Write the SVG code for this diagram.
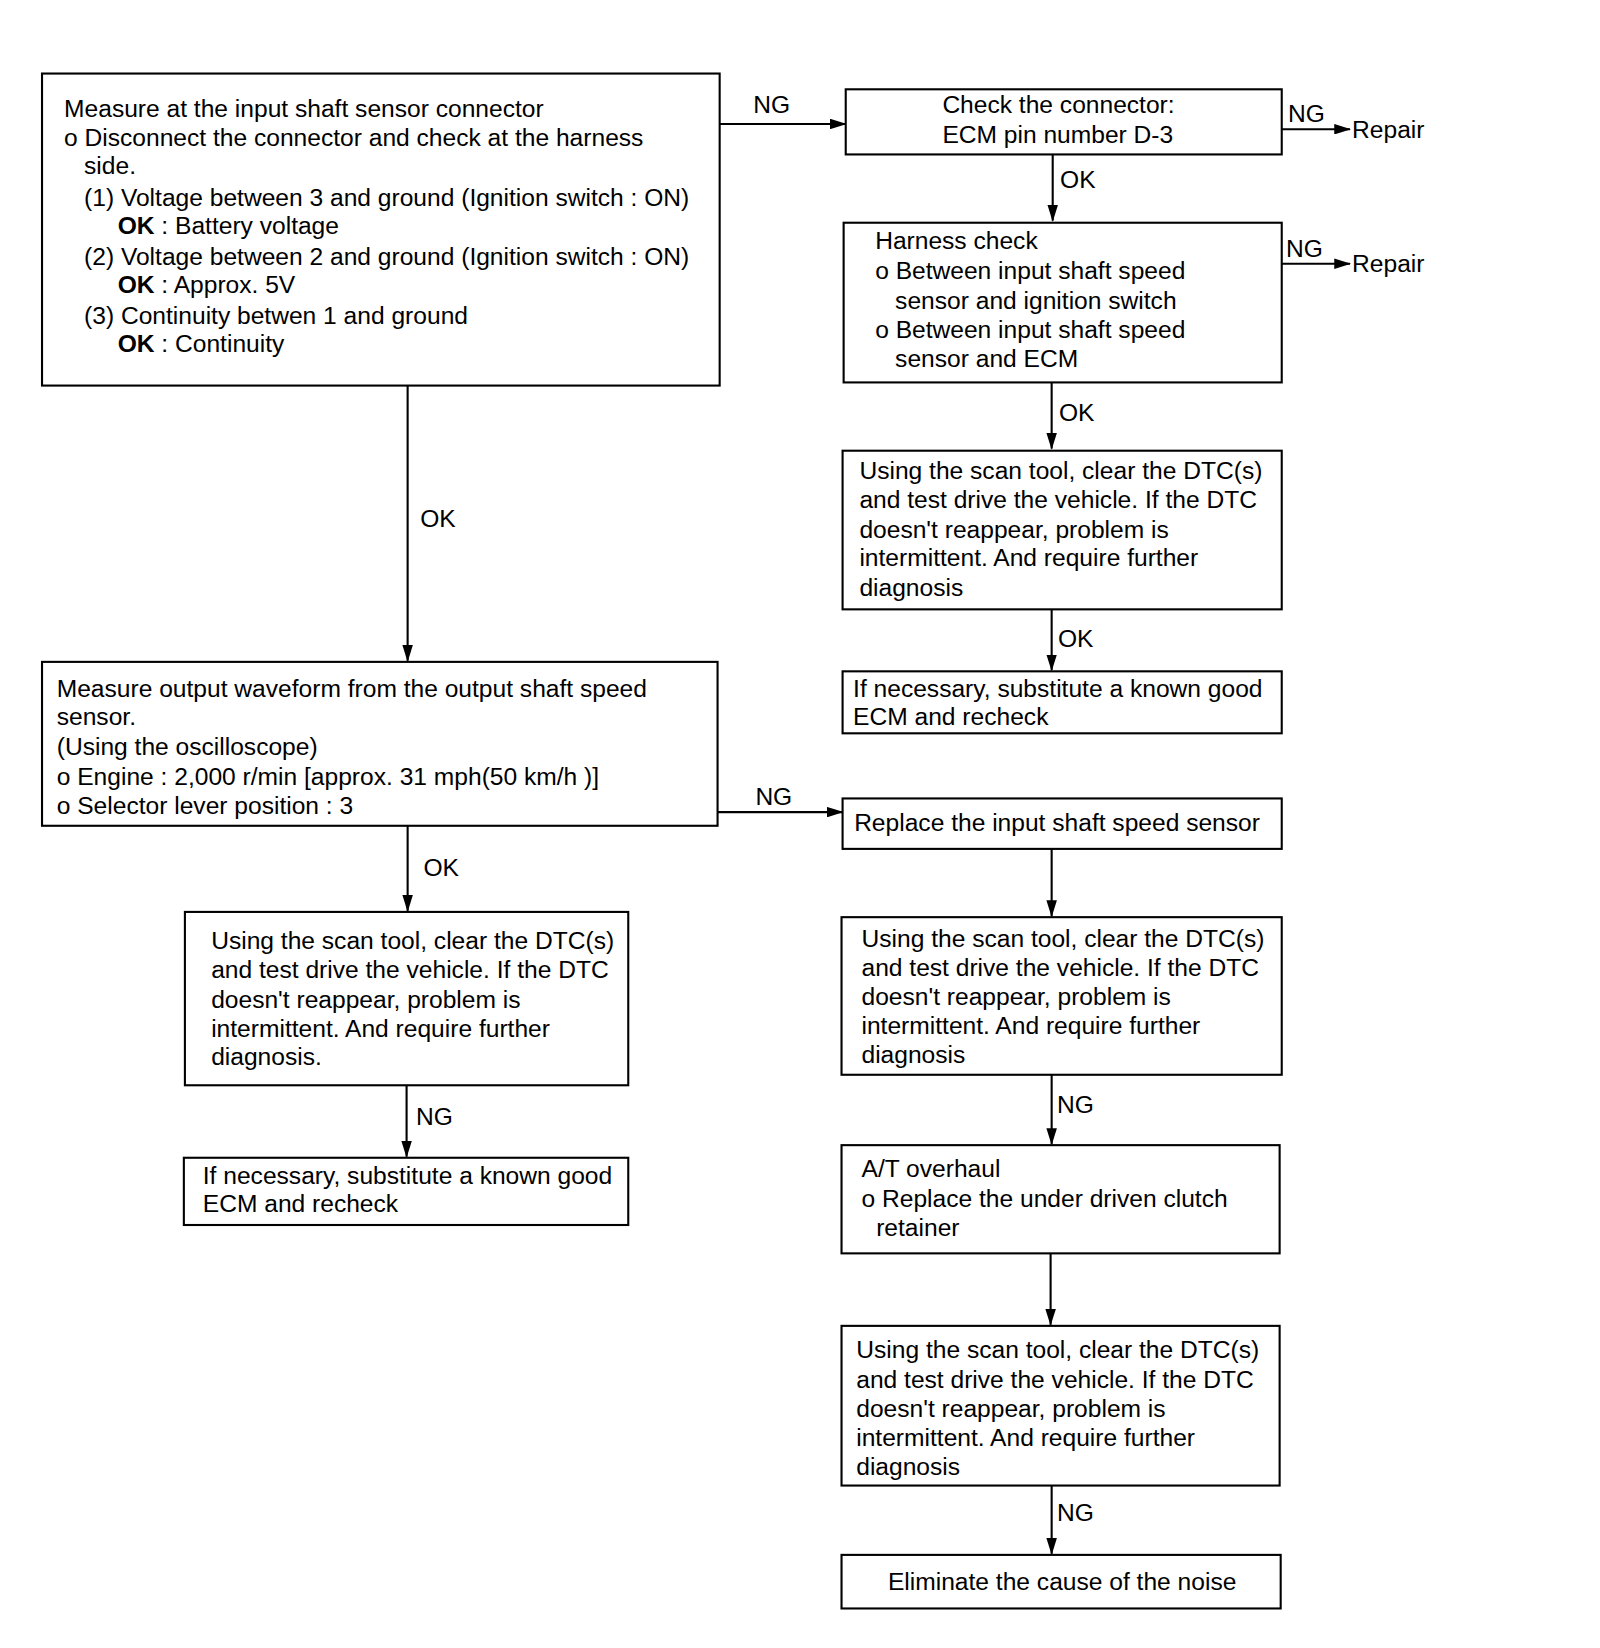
<svg xmlns="http://www.w3.org/2000/svg" width="1600" height="1648" viewBox="0 0 1600 1648">
<style>
text{font-family:"Liberation Sans",Arial,sans-serif;font-size:23.4px;fill:#000}
.b{font-weight:bold}
rect{fill:#fff;stroke:#000;stroke-width:2}
.c line{stroke:#000;stroke-width:2}
</style>
<defs>
<marker id="ar" markerWidth="16" markerHeight="10" refX="15" refY="5" orient="auto" markerUnits="userSpaceOnUse">
<path d="M0,0 L16,5 L0,10 Z" fill="#000"/>
</marker>
</defs>
<rect width="1600" height="1648" style="stroke:none"/>
<g transform="scale(1.0506)">
<g class="c">
<line x1="685" y1="118" x2="805" y2="118" marker-end="url(#ar)"/>
<line x1="1220" y1="123" x2="1285" y2="123" marker-end="url(#ar)"/>
<line x1="1002" y1="147" x2="1002" y2="210" marker-end="url(#ar)"/>
<line x1="1220" y1="251" x2="1285" y2="251" marker-end="url(#ar)"/>
<line x1="1001" y1="364" x2="1001" y2="427" marker-end="url(#ar)"/>
<line x1="1001" y1="580" x2="1001" y2="638" marker-end="url(#ar)"/>
<line x1="388" y1="367" x2="388" y2="629" marker-end="url(#ar)"/>
<line x1="683" y1="773" x2="802" y2="773" marker-end="url(#ar)"/>
<line x1="1001" y1="808" x2="1001" y2="872" marker-end="url(#ar)"/>
<line x1="1001" y1="1023" x2="1001" y2="1089" marker-end="url(#ar)"/>
<line x1="1000" y1="1193" x2="1000" y2="1261" marker-end="url(#ar)"/>
<line x1="1001" y1="1414" x2="1001" y2="1479" marker-end="url(#ar)"/>
<line x1="388" y1="786" x2="388" y2="867" marker-end="url(#ar)"/>
<line x1="387" y1="1033" x2="387" y2="1101" marker-end="url(#ar)"/>
<text x="717" y="108">NG</text>
<text x="1226" y="116">NG</text>
<text x="1287" y="131">Repair</text>
<text x="1009" y="179">OK</text>
<text x="1224" y="245">NG</text>
<text x="1287" y="259">Repair</text>
<text x="1008" y="401">OK</text>
<text x="1007" y="616">OK</text>
<text x="400" y="502">OK</text>
<text x="719" y="766">NG</text>
<text x="1006" y="1059">NG</text>
<text x="1006" y="1448">NG</text>
<text x="403" y="834">OK</text>
<text x="396" y="1071">NG</text>
</g>
<g id="n1">
<rect x="40" y="70" width="645" height="297"/>
<text x="61" y="111">Measure at the input shaft sensor connector</text>
<text x="61" y="139">o Disconnect the connector and check at the harness</text>
<text x="80" y="166">side.</text>
<text x="80" y="196">(1) Voltage between 3 and ground (Ignition switch : ON)</text>
<text x="112" y="223"><tspan class="b">OK</tspan> : Battery voltage</text>
<text x="80" y="252">(2) Voltage between 2 and ground (Ignition switch : ON)</text>
<text x="112" y="279"><tspan class="b">OK</tspan> : Approx. 5V</text>
<text x="80" y="308">(3) Continuity betwen 1 and ground</text>
<text x="112" y="335"><tspan class="b">OK</tspan> : Continuity</text>
</g>
<g id="n2">
<rect x="805" y="85" width="415" height="62"/>
<text x="897" y="108">Check the connector:</text>
<text x="897" y="136">ECM pin number D-3</text>
</g>
<g id="n3">
<rect x="803" y="212" width="417" height="152"/>
<text x="833" y="237">Harness check</text>
<text x="833" y="266">o Between input shaft speed</text>
<text x="852" y="294">sensor and ignition switch</text>
<text x="833" y="322">o Between input shaft speed</text>
<text x="852" y="349">sensor and ECM</text>
</g>
<g id="n4">
<rect x="802" y="429" width="418" height="151"/>
<text x="818" y="456">Using the scan tool, clear the DTC(s)</text>
<text x="818" y="484">and test drive the vehicle. If the DTC</text>
<text x="818" y="512">doesn't reappear, problem is</text>
<text x="818" y="539">intermittent. And require further</text>
<text x="818" y="567">diagnosis</text>
</g>
<g id="n5">
<rect x="802" y="639" width="418" height="59"/>
<text x="812" y="663">If necessary, substitute a known good</text>
<text x="812" y="690">ECM and recheck</text>
</g>
<g id="n6">
<rect x="40" y="630" width="643" height="156"/>
<text x="54" y="663">Measure output waveform from the output shaft speed</text>
<text x="54" y="690">sensor.</text>
<text x="54" y="719">(Using the oscilloscope)</text>
<text x="54" y="747">o Engine : 2,000 r/min [approx. 31 mph(50 km/h )]</text>
<text x="54" y="775">o Selector lever position : 3</text>
</g>
<g id="n7">
<rect x="802" y="760" width="418" height="48"/>
<text x="813" y="791">Replace the input shaft speed sensor</text>
</g>
<g id="n8">
<rect x="801" y="873" width="419" height="150"/>
<text x="820" y="901">Using the scan tool, clear the DTC(s)</text>
<text x="820" y="929">and test drive the vehicle. If the DTC</text>
<text x="820" y="957">doesn't reappear, problem is</text>
<text x="820" y="984">intermittent. And require further</text>
<text x="820" y="1012">diagnosis</text>
</g>
<g id="n9">
<rect x="801" y="1090" width="417" height="103"/>
<text x="820" y="1120">A/T overhaul</text>
<text x="820" y="1149">o Replace the under driven clutch</text>
<text x="834" y="1176">retainer</text>
</g>
<g id="n10">
<rect x="801" y="1262" width="417" height="152"/>
<text x="815" y="1293">Using the scan tool, clear the DTC(s)</text>
<text x="815" y="1321">and test drive the vehicle. If the DTC</text>
<text x="815" y="1349">doesn't reappear, problem is</text>
<text x="815" y="1376">intermittent. And require further</text>
<text x="815" y="1404">diagnosis</text>
</g>
<g id="n11">
<rect x="801" y="1480" width="418" height="51"/>
<text x="1011" y="1513" text-anchor="middle">Eliminate the cause of the noise</text>
</g>
<g id="n12">
<rect x="176" y="868" width="422" height="165"/>
<text x="201" y="903">Using the scan tool, clear the DTC(s)</text>
<text x="201" y="931">and test drive the vehicle. If the DTC</text>
<text x="201" y="959">doesn't reappear, problem is</text>
<text x="201" y="987">intermittent. And require further</text>
<text x="201" y="1014">diagnosis.</text>
</g>
<g id="n13">
<rect x="175" y="1102" width="423" height="64"/>
<text x="193" y="1127">If necessary, substitute a known good</text>
<text x="193" y="1154">ECM and recheck</text>
</g>
</g>
</svg>
